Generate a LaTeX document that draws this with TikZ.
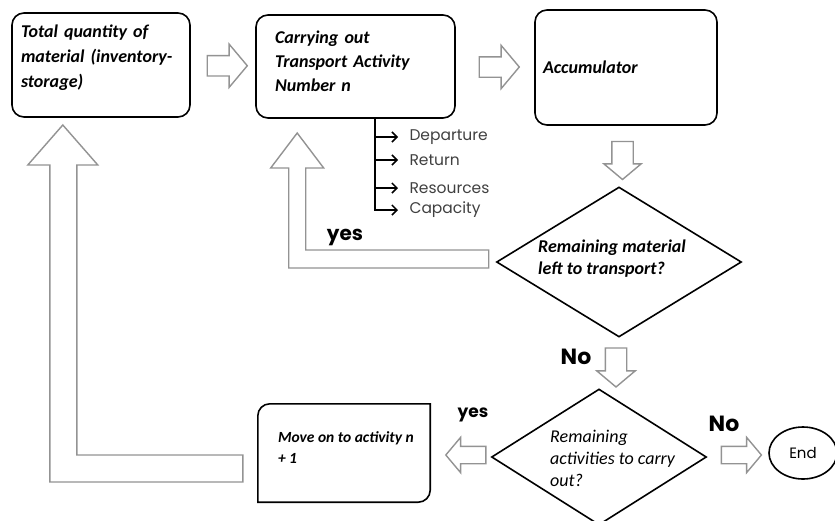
\documentclass[tikz,border=0pt]{standalone}
\usepackage{fontspec}
\setmainfont{Carlito}
\newfontfamily\gothic{Poppins}
\usetikzlibrary{shapes,arrows,arrows.meta,calc,positioning}
\def\boxline{1.6pt}
\def\hollowline{1.4pt}
\def\boxfont{\fontsize{18}{24}\selectfont\bfseries\itshape}

\begin{document}
\begin{tikzpicture}[x=1pt, y=-1pt,
            process/.style={%
                line width=\boxline, rectangle, rounded corners=12pt,%
                draw=black, fill=white, align=left, font=\boxfont%
            },
            decision/.style={%
                line width=\boxline, diamond, inner sep=0pt,%
                draw=black, fill=white%
            },
            boxtext/.style={%
                align=left, inner sep=0pt, font=\boxfont%
            },
            item/.style={%
                font=\gothic\fontsize{15.5}{18}\selectfont, text=black!75%
            },
            answer/.style={%
                font=\gothic\bfseries, text=black%
            },
            hollow/.style={%
                single arrow, draw=gray!85, fill=white, line width=\hollowline,%
                inner sep=9.5pt, minimum height=40pt,%
                single arrow head extend=11.5pt, single arrow tip angle=100%
            },
            hollowpath/.style={draw=gray!85, fill=white, line width=\hollowline},
            branch/.style={line width=1.5pt, -{Straight Barb[length=5pt,width=10pt]}}
        ]
        \useasboundingbox (0,0) rectangle (835,520);

        % Define nodes
        \node (box_total) [process, minimum height=104pt, text width=160pt,
            inner xsep=9pt, text height=13pt, text depth=69pt] at (101,65) {%
            Total quantity of\\[1pt]material (inventory-\\[1pt]storage)
        };
        \node (box_transport) [process, minimum height=103pt, text width=161pt,
            inner xsep=19pt, text height=13pt, text depth=60pt] at (355.5,66.5) {%
            Carrying out\\Transport Activity\\Number n
        };
        \node (box_accu) [process, minimum height=115pt, text width=166pt,
            inner xsep=8pt] at (626,67.5) {%
            Accumulator
        };
        \node (dec_material) [decision, minimum width=245pt, minimum height=150pt]
            at (619,262) {};
        \node (dec_material_txt) [boxtext, anchor=west, font=\fontsize{18}{22}\selectfont\bfseries\itshape]
            at ($(dec_material)+(-81,-3)$) {%
            Remaining material\\left to transport?
        };
        \node (dec_activity) [decision, minimum width=215pt, minimum height=136pt]
            at (599,457) {};
        \node (dec_activity_txt) [boxtext, anchor=west, font=\fontsize{18}{22}\selectfont\itshape]
            at ($(dec_activity)+(-49,1)$) {%
            Remaining\\activities to carry\\out?
        };
        \node (box_next) [minimum width=172pt, minimum height=98pt] at (344,453) {};
        \node (box_next_txt) [boxtext, anchor=west, font=\fontsize{15.5}{21}\selectfont\bfseries\itshape]
            at ($(box_next.west)+(20,-5)$) {%
            Move on to activity n\\+ 1
        };
        \node (end) [ellipse, draw=black, line width=\boxline, minimum width=68pt,
            minimum height=52pt, font=\gothic\fontsize{15}{18}\selectfont] at (803,453) {End};

        % box with two rounded corners
        \draw [line width=\boxline]
            (box_next.south west) [rounded corners=12pt] -- (box_next.north west)
            [sharp corners] -- (box_next.north east)
            [rounded corners=12pt] -- (box_next.south east)
            [sharp corners] -- cycle;

        % attributes of the transport activity
        \node (dep) [item, anchor=west] at (406,137) {Departure};
        \node (ret) [item, anchor=west] at (406,160) {Return};
        \node (res) [item, anchor=west] at (406,188) {Resources};
        \node (cap) [item, anchor=west] at (406,210) {Capacity};
        \coordinate (stem_top) at ($(box_transport.south west)+(120,0)$);
        \draw [branch, shorten >=8pt] (stem_top) |- (cap.west);
        \draw [branch, shorten >=8pt] (stem_top |- dep) -- (dep.west);
        \draw [branch, shorten >=8pt] (stem_top |- ret) -- (ret.west);
        \draw [branch, shorten >=8pt] (stem_top |- res) -- (res.west);

        % block arrows
        \node (arr_12) [hollow] at ($(box_total.east)!0.5!(box_transport.west)$) {};
        \node (arr_23) [hollow] at ($(box_transport.east)!0.5!(box_accu.west)$) {};
        \node (arr_3d) [hollow, shape border rotate=270, minimum height=38pt,
            inner sep=10pt, single arrow head extend=8pt]
            at ($(box_accu.south)!0.5!(dec_material.north)$) {};
        \node (arr_no) [hollow, shape border rotate=270, minimum height=39pt,
            inner sep=10pt, single arrow head extend=8.5pt]
            at ($(dec_material.south)!0.5!(dec_activity.north)+(7,0)$) {};
        \node (arr_yes) [hollow, shape border rotate=180, inner sep=8pt,
            single arrow head extend=9pt]
            at ($(box_next.east)!0.5!(dec_activity.west)+(9,0)$) {};
        \node (arr_end) [hollow, inner sep=8pt, single arrow head extend=9pt]
            at ($(dec_activity.east)!0.5!(end.west)$) {};

        % loop back arrows
        \draw [hollowpath]
            ($(dec_material.west)+(-7,-12)$) -- ++(0,18) -- ++(-200,0)
            -- ++(0,-100) -- ++(-18,0) -- ++(26.5,-35) -- ++(26.5,35)
            -- ++(-18,0) -- ++(0,82) -- cycle;
        \draw [hollowpath]
            ($(box_next.west)+(-15,2)$) -- ++(0,27) -- ++(-193,0)
            -- ++(0,-317) -- ++(-22,0) -- ++(35,-40) -- ++(35,40)
            -- ++(-21,0) -- ++(0,290) -- cycle;

        % answers
        \node (lbl_yes1) [answer, font=\gothic\bfseries\fontsize{20}{24}\selectfont] at (345,237) {yes};
        \node (lbl_no1) [answer, font=\gothic\bfseries\fontsize{22}{26}\selectfont] at (576,357) {No};
        \node (lbl_yes2) [answer, font=\gothic\bfseries\fontsize{17}{20}\selectfont] at (473,415) {yes};
        \node (lbl_no2) [answer, font=\gothic\bfseries\fontsize{22}{26}\selectfont] at (724,424) {No};

        \end{tikzpicture}
\end{document}
